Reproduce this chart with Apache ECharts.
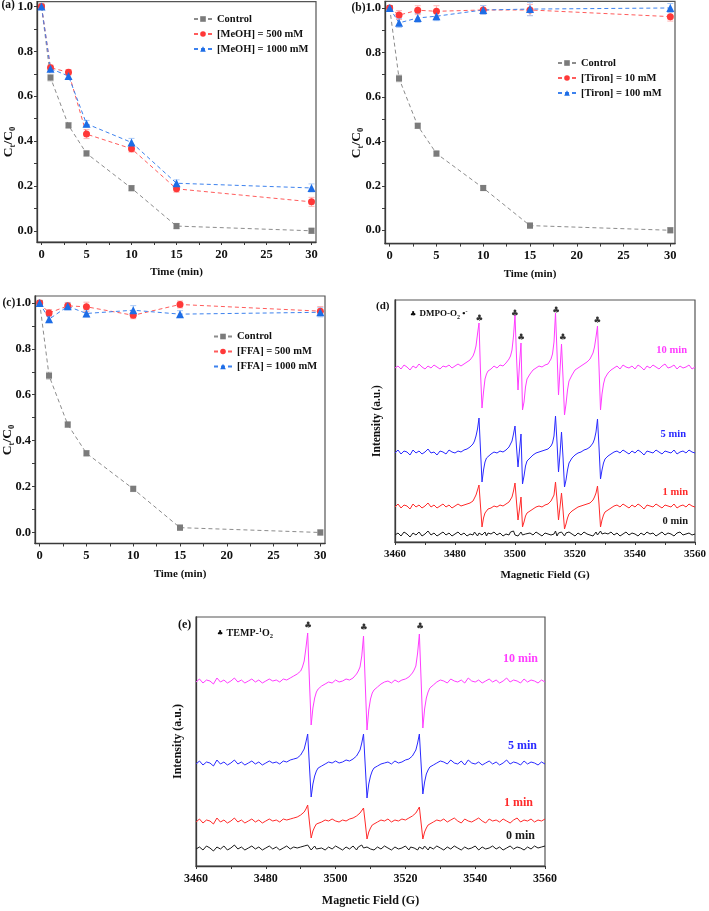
<!DOCTYPE html>
<html><head><meta charset="utf-8">
<script src="https://cdn.jsdelivr.net/npm/echarts@6/dist/echarts.min.js"></script>
<style>html,body{margin:0;padding:0;background:#fff}#c{width:709px;height:911px}</style>
</head><body><div id="c"></div>
<script>
// ---------- kinetics data (panels a-c) ----------
const times = [0, 1, 3, 5, 10, 15, 30];
const control = [1.0, 0.683, 0.470, 0.345, 0.190, 0.021, 0.0];
const controlErr = [0.006, 0.015, 0.012, 0.012, 0.012, 0.012, 0.012];
const meoh500 = [1.0, 0.727, 0.707, 0.431, 0.366, 0.187, 0.129];
const meoh500Err = [0.005, 0.012, 0.012, 0.020, 0.015, 0.015, 0.020];
const meoh1000 = [1.0, 0.723, 0.690, 0.477, 0.394, 0.212, 0.191];
const meoh1000Err = [0.005, 0.012, 0.012, 0.015, 0.018, 0.015, 0.018];
const tiron10 = [1.0, 0.968, 0.990, 0.985, 0.991, 0.991, 0.961];
const tiron10Err = [0.005, 0.020, 0.020, 0.025, 0.020, 0.025, 0.020];
const tiron100 = [1.0, 0.933, 0.955, 0.963, 0.991, 0.995, 1.0];
const tiron100Err = [0.005, 0.020, 0.020, 0.020, 0.020, 0.030, 0.020];
const ffa500 = [1.0, 0.956, 0.987, 0.983, 0.946, 0.993, 0.964];
const ffa500Err = [0.005, 0.015, 0.015, 0.020, 0.015, 0.015, 0.020];
const ffa1000 = [1.0, 0.929, 0.985, 0.954, 0.968, 0.951, 0.959];
const ffa1000Err = [0.005, 0.015, 0.015, 0.015, 0.020, 0.015, 0.020];
const timeTicks = [0, 2.5, 5, 7.5, 10, 12.5, 15, 17.5, 20, 22.5, 25, 27.5, 30];
const timeLabels = [0, 5, 10, 15, 20, 25, 30];
const ratioTicks = [0, 0.1, 0.2, 0.3, 0.4, 0.5, 0.6, 0.7, 0.8, 0.9, 1.0];
const ratioLabels = [0, 0.2, 0.4, 0.6, 0.8, 1.0];

// ---------- EPR spectra (panel d, DMPO) ----------
const fieldD = [3460,3461,3462,3463,3464,3465,3466,3467,3468,3469,3470,3471,3472,3473,3474,3475,3476,3477,3478,3479,3480,3481,3482,3483,3484,3485,
3485.5,3486,3486.5,3487,3487.5,3488,3488.5,3489,3489.5,3490,3490.5,3491,
3492,3493,3494,3495,3496,3497,
3497.5,3498,3498.5,3499,3499.5,3500,3500.5,3501,3501.5,3502,3502.5,3503,3503.5,3504,
3505,3506,3507,3508,3509,3510,3511,
3511.5,3512,3512.5,3513,3513.5,3514,3514.5,3515,3515.5,3516,3516.5,3517,3517.5,3518,
3519,3520,3521,3522,3523,3524,3525,
3525.5,3526,3526.5,3527,3527.5,3528,3528.5,3529,3529.5,3530,
3531,3532,3533,3534,3535,3536,3537,3538,3539,3540,3541,3542,3543,3544,3545,3546,3547,3548,3549,3550,3551,3552,3553,3554,3555,3556,3557,3558,3559,3560];
const dmpo10 = [174,176,173,177,175,172,176,174,178,175,173,176,174,177,175,173,176,175,177,174,176,178,176,178,180,182,
184,186,190,196,208,219,170,134,150,163,168,171,
173,176,174,177,176,179,
181,183,186,192,206,227,185,152,178,199,132,140,155,163,
168,172,174,176,175,177,178,
180,183,188,200,229,190,147,172,198,165,127,138,152,161,
167,172,174,176,178,180,183,
186,189,195,205,216,175,132,148,158,164,
169,172,174,176,173,177,175,174,176,173,177,175,172,176,174,177,175,173,176,178,174,175,177,173,176,174,175,177,173,175];
const dmpo5 = [89,92,88,91,90,87,92,89,91,88,90,93,89,90,87,91,90,88,92,90,89,91,90,92,93,95,
96,98,101,106,113,124,92,60,72,80,84,86,
88,90,89,91,90,92,
94,95,97,101,108,116,95,75,92,108,58,66,76,81,
84,87,89,90,91,92,93,
94,96,99,106,126,100,70,88,110,85,55,62,72,79,
84,87,89,90,92,93,95,
97,99,103,110,123,95,63,72,79,83,
86,88,90,91,89,92,90,88,91,89,92,90,87,91,90,89,92,90,88,91,90,89,92,88,90,91,89,92,90,89];
const dmpo1 = [35,38,34,37,36,33,38,35,37,34,36,39,35,37,34,36,38,35,37,34,36,38,36,37,38,39,
40,41,43,47,52,57,36,15,24,29,31,33,
34,36,35,37,36,38,
39,40,42,45,51,59,40,22,33,45,15,20,26,29,
31,33,35,36,35,37,38,
39,41,43,47,60,42,22,35,49,32,13,18,24,28,
31,33,35,36,37,38,39,
41,42,45,49,56,38,15,22,27,30,
32,34,36,37,35,38,36,34,37,35,38,36,33,37,36,35,38,36,34,37,36,35,38,34,36,37,35,38,36,35];
const dmpo0 = [7,9,6,10,8,5,9,7,10,6,8,11,7,9,6,8,10,7,9,6,8,10,7,9,6,8,
9,7,10,8,6,9,11,7,8,10,6,9,
8,10,7,9,6,8,
9,7,10,8,11,7,9,6,8,10,7,9,8,6,
9,7,10,8,6,9,8,
10,7,9,8,11,6,9,7,10,8,6,9,7,10,
8,6,9,7,10,8,7,
9,6,8,10,7,9,11,8,6,9,
8,10,7,9,6,8,10,7,9,8,6,9,7,10,8,9,6,8,10,7,9,8,6,9,10,7,8,9,7,8];
const dmpoPeakField = [3488.1, 3499.9, 3502.0, 3513.7, 3515.9, 3527.4];
const dmpoPeakMark = [223, 228, 204, 231, 204, 221];

// ---------- EPR spectra (panel e, TEMP) ----------
const fieldE = [3460,3461,3462,3463,3464,3465,3466,3467,3468,3469,3470,3471,3472,3473,3474,3475,3476,3477,3478,3479,3480,3481,3482,3483,3484,3485,3486,3487,3488,3489,
3489.5,3490,3490.5,3491,3491.5,3492,3492.5,3493,3493.5,3494,3494.5,3495,
3496,3497,3498,3499,3500,3501,3502,3503,3504,3505,
3505.5,3506,3506.5,3507,3507.5,3508,3508.5,3509,3509.5,3510,3510.5,3511,
3512,3513,3514,3515,3516,3517,3518,3519,3520,3521,
3521.5,3522,3522.5,3523,3523.5,3524,3524.5,3525,3525.5,3526,3526.5,3527,
3528,3529,3530,3531,3532,3533,3534,3535,3536,3537,3538,3539,3540,3541,3542,3543,3544,3545,3546,3547,3548,3549,3550,3551,3552,3553,3554,3555,3556,3557,3558,3559,3560];
const temp10 = [184,187,183,186,185,182,188,184,186,183,185,188,184,186,183,185,187,184,186,183,185,187,185,186,184,187,186,188,190,192,
193,195,199,205,218,233,185,141,158,168,174,177,
180,182,184,183,186,184,185,187,186,188,
190,192,195,199,210,230,182,136,156,167,173,176,
179,182,184,185,183,186,184,186,187,189,
191,193,196,200,213,232,186,138,157,168,174,178,
181,184,186,185,183,187,185,184,186,183,188,185,184,186,183,185,187,184,186,183,185,188,184,186,185,183,187,184,186,185,183,186,184];
const temp5 = [102,105,101,104,103,100,106,102,104,101,103,106,102,104,101,103,105,102,104,101,103,105,103,104,102,105,104,106,107,108,
109,111,113,117,124,132,100,69,82,90,95,98,
100,102,104,103,105,103,104,106,105,107,
108,110,112,116,123,132,100,68,82,90,95,98,
100,102,103,104,102,105,103,104,106,107,
108,110,112,116,123,132,102,72,84,92,96,99,
101,103,105,104,102,106,103,102,105,101,106,103,102,104,101,103,105,102,104,101,103,106,102,104,103,101,105,102,104,103,101,104,102];
const temp1 = [44,47,43,46,45,42,48,44,46,43,45,48,44,46,43,45,47,44,46,43,45,47,45,46,44,47,46,47,48,49,
50,51,52,54,57,61,44,28,35,39,42,43,
44,46,45,47,45,44,46,45,47,48,
49,50,51,53,55,58,43,27,34,38,41,43,
44,46,45,47,44,46,45,47,46,48,
49,50,51,53,56,59,43,27,34,38,41,43,
44,46,45,47,44,46,48,45,43,47,45,44,46,48,45,43,47,45,46,44,47,45,43,46,48,44,46,45,47,44,46,45,47];
const temp0 = [17,19,16,20,18,15,19,17,20,16,18,21,17,19,16,18,20,17,19,16,18,20,17,19,16,18,20,17,19,18,
16,19,17,20,18,21,19,16,18,20,17,19,
18,16,19,17,20,18,16,19,17,20,
18,16,19,17,21,18,16,19,20,17,18,16,
19,17,20,18,16,19,17,18,20,16,
19,17,18,20,16,19,18,17,20,18,16,19,
17,20,18,16,19,17,20,18,16,19,17,18,20,16,19,17,18,20,17,19,16,18,20,17,19,18,16,19,17,20,18,19,20];
const tempPeakField = [3492.1, 3508.1, 3524.2];
const tempPeakMark = [240, 238, 239];
const fieldTicks = [3460, 3470, 3480, 3490, 3500, 3510, 3520, 3530, 3540, 3550, 3560];
const fieldLabels = [3460, 3480, 3500, 3520, 3540, 3560];

// ---------- styling ----------
const FF = "'Liberation Serif','Times New Roman',serif";
const AX = '#3a3a3a';
const C_GRAY = {m:'#7b7b7b', l:'#8c8c8c', e:'#c4c4c4'};
const C_RED = {m:'#ff3838', l:'#ff5c5c', e:'#ffb3b3'};
const C_BLUE = {m:'#1d6de6', l:'#3d82ee', e:'#a9c9f6'};
const MAG = '#ff3dff', BLU = '#2a2aff', RED = '#ff2a2a', BLK = '#1a1a1a';

const zip = (xs, ys) => xs.map((x, i) => [x, ys[i]]);

function kinLine(name, ys, col, sym, size, idx) {
  return {type:'line', name, xAxisIndex:idx, yAxisIndex:idx, data:zip(times, ys),
    symbol:sym, symbolSize:size, showSymbol:true, z:3,
    itemStyle:{color:col.m}, lineStyle:{color:col.l, width:1, type:[4,3]}, animation:false};
}
function errBar(ys, es, col, idx) {
  return {type:'custom', xAxisIndex:idx, yAxisIndex:idx, silent:true, z:2, animation:false,
    data: times.map((t, i) => [t, ys[i] - es[i], ys[i] + es[i]]),
    encode:{x:0, y:[1,2]},
    renderItem:(p, api) => {
      const lo = api.coord([api.value(0), api.value(1)]);
      const hi = api.coord([api.value(0), api.value(2)]);
      const w = 3, st = {stroke:col.e, lineWidth:1};
      return {type:'group', children:[
        {type:'line', shape:{x1:lo[0], y1:lo[1], x2:hi[0], y2:hi[1]}, style:st},
        {type:'line', shape:{x1:lo[0]-w, y1:lo[1], x2:lo[0]+w, y2:lo[1]}, style:st},
        {type:'line', shape:{x1:hi[0]-w, y1:hi[1], x2:hi[0]+w, y2:hi[1]}, style:st}]};
    }};
}
function specLine(xs, ys, color, idx) {
  return {type:'line', xAxisIndex:idx, yAxisIndex:idx, data:zip(xs, ys), showSymbol:false,
    symbol:'none', lineStyle:{color, width:1}, itemStyle:{color}, animation:false, silent:true};
}
function peakMarks(xs, ys, idx) {
  return {type:'scatter', xAxisIndex:idx, yAxisIndex:idx, data:zip(xs, ys), symbolSize:2,
    itemStyle:{color:'rgba(0,0,0,0)'}, silent:true, animation:false, z:5,
    label:{show:true, position:'inside', formatter:'\u2663', fontSize:9, color:'#000',
      fontFamily:"'DejaVu Sans',sans-serif"}};
}

const ctRich = {b:{fontFamily:FF, fontWeight:'bold', fontSize:13.5, fill:'#111', lineHeight:17},
  s:{fontFamily:FF, fontWeight:'bold', fontSize:8.5, fill:'#111', verticalAlign:'bottom', lineHeight:8}};
function ctLabel(x, y) {
  return {type:'text', silent:true, x, y, rotation:Math.PI / 2,
    style:{x:0, y:0, text:'{b|C}{s|t}{b|/C}{s|0}', rich:ctRich, align:'center', verticalAlign:'middle'}};
}

const noZeroLine = c => ({show:true, onZero:false, lineStyle:{color:c, width:1.3}});

function timeX(idx) {
  return {type:'value', gridIndex:idx, min:-0.5, max:30.5, name:'Time (min)', nameLocation:'middle',
    nameGap:25, nameTextStyle:{fontFamily:FF, fontWeight:'bold', fontSize:11, color:'#111'},
    axisLine:noZeroLine(AX),
    axisTick:{show:true, inside:false, length:3, customValues:timeTicks, lineStyle:{color:AX}},
    axisLabel:{customValues:timeLabels, margin:6, fontFamily:FF, fontWeight:'bold', fontSize:12.5, color:'#111'},
    splitLine:{show:false}};
}
function ratioY(idx, min, max) {
  return {type:'value', gridIndex:idx, min, max,
    axisLine:noZeroLine(AX),
    axisTick:{show:true, inside:false, length:3, customValues:ratioTicks, lineStyle:{color:AX}},
    axisLabel:{customValues:ratioLabels, margin:4, formatter:v => v.toFixed(1),
      fontFamily:FF, fontWeight:'bold', fontSize:12.5, color:'#111'},
    splitLine:{show:false}};
}
function fieldX(idx, gap, fs, nfs) {
  return {type:'value', gridIndex:idx, min:3460, max:3560, name:'Magnetic Field (G)', nameLocation:'middle',
    nameGap:gap, nameTextStyle:{fontFamily:FF, fontWeight:'bold', fontSize:nfs, color:'#111'},
    axisLine:noZeroLine(AX),
    axisTick:{show:true, inside:false, length:3, customValues:fieldTicks, lineStyle:{color:AX}},
    axisLabel:{customValues:fieldLabels, formatter:v => String(v), margin:7,
      fontFamily:FF, fontWeight:'bold', fontSize:fs, color:'#111'},
    splitLine:{show:false}};
}
function intensityY(idx, max, gap, nfs) {
  return {type:'value', gridIndex:idx, min:0, max, name:'Intensity (a.u.)', nameLocation:'middle', nameRotate:90,
    nameGap:gap, nameTextStyle:{fontFamily:FF, fontWeight:'bold', fontSize:nfs, color:'#111'},
    axisLine:noZeroLine(AX), axisTick:{show:false}, axisLabel:{show:false},
    splitLine:{show:false}};
}
function legendAt(left, top, names) {
  return {left, top, orient:'vertical', itemWidth:18, itemHeight:7, itemGap:1, padding:0,
    textStyle:{fontFamily:FF, fontWeight:'bold', fontSize:10.5, color:'#111', lineHeight:14, padding:[0,0,0,0]},
    data:names, selectedMode:false};
}
function txt(x, y, text, opts) {
  return {type:'text', silent:true, style:Object.assign({x, y, text, font:`bold 12px ${FF}`, fill:'#111',
    align:'left', verticalAlign:'middle'}, opts || {})};
}

const labA = ['Control', '[MeOH] = 500 mM', '[MeOH] = 1000 mM'];
const labB = ['Control', '[Tiron] = 10 mM', '[Tiron] = 100 mM'];
const labC = ['Control', '[FFA] = 500 mM', '[FFA] = 1000 mM'];

const frame = {show:true, borderColor:'#555', borderWidth:1.2, backgroundColor:'transparent'};
const option = {
  backgroundColor:'#fff', animation:false,
  grid:[
    Object.assign({left:37, top:0, width:279, height:242}, frame),
    Object.assign({left:385, top:1.3, width:290, height:242.3}, frame),
    Object.assign({left:35, top:296, width:290, height:247.5}, frame),
    Object.assign({left:395, top:300, width:303, height:242}, frame),
    Object.assign({left:196, top:617, width:349, height:249}, frame)
  ],
  xAxis:[timeX(0), timeX(1), timeX(2), fieldX(3, 28, 11, 11), fieldX(4, 29, 12, 12)],
  yAxis:[ratioY(0, -0.05, 1.022), ratioY(1, -0.06, 1.03), ratioY(2, -0.048, 1.03),
    intensityY(3, 242, 12, 11.5), intensityY(4, 249, 12, 12)],
  legend:[legendAt(193, 12, labA), legendAt(557, 56, labB), legendAt(213, 329.5, labC)],
  series:[
    errBar(control, controlErr, C_GRAY, 0), errBar(meoh500, meoh500Err, C_RED, 0), errBar(meoh1000, meoh1000Err, C_BLUE, 0),
    kinLine(labA[0], control, C_GRAY, 'rect', 6, 0),
    kinLine(labA[1], meoh500, C_RED, 'circle', 7, 0),
    kinLine(labA[2], meoh1000, C_BLUE, 'triangle', 8, 0),
    errBar(control, controlErr, C_GRAY, 1), errBar(tiron10, tiron10Err, C_RED, 1), errBar(tiron100, tiron100Err, C_BLUE, 1),
    kinLine(labB[0], control, C_GRAY, 'rect', 6, 1),
    kinLine(labB[1], tiron10, C_RED, 'circle', 7, 1),
    kinLine(labB[2], tiron100, C_BLUE, 'triangle', 8, 1),
    errBar(control, controlErr, C_GRAY, 2), errBar(ffa500, ffa500Err, C_RED, 2), errBar(ffa1000, ffa1000Err, C_BLUE, 2),
    kinLine(labC[0], control, C_GRAY, 'rect', 6, 2),
    kinLine(labC[1], ffa500, C_RED, 'circle', 7, 2),
    kinLine(labC[2], ffa1000, C_BLUE, 'triangle', 8, 2),
    specLine(fieldD, dmpo0, BLK, 3), specLine(fieldD, dmpo1, RED, 3),
    specLine(fieldD, dmpo5, BLU, 3), specLine(fieldD, dmpo10, MAG, 3),
    peakMarks(dmpoPeakField, dmpoPeakMark, 3),
    specLine(fieldE, temp0, BLK, 4), specLine(fieldE, temp1, RED, 4),
    specLine(fieldE, temp5, BLU, 4), specLine(fieldE, temp10, MAG, 4),
    peakMarks(tempPeakField, tempPeakMark, 4)
  ],
  graphic:[
    ctLabel(9, 142), ctLabel(357, 143), ctLabel(8, 440),
    txt(1.5, 5, '(a)', {font:`bold 11.5px ${FF}`}),
    txt(351.5, 8, '(b)', {font:`bold 11.5px ${FF}`}),
    txt(2.5, 303, '(c)', {font:`bold 11.5px ${FF}`}),
    txt(376, 306, '(d)', {font:`bold 11px ${FF}`}),
    txt(178, 625, '(e)', {font:`bold 12px ${FF}`}),
    {type:'text', silent:true, style:{x:410, y:314, verticalAlign:'middle', align:'left',
      text:'{c|\u2663} {t|DMPO-O}{s|2}{t| \u2022}{p|-}',
      rich:{c:{fontSize:7, fontFamily:"'DejaVu Sans',sans-serif", fill:'#000'},
        t:{font:`bold 9px ${FF}`, fill:'#111', lineHeight:12},
        s:{font:`bold 6px ${FF}`, fill:'#111', verticalAlign:'bottom', lineHeight:6},
        p:{font:`bold 6px ${FF}`, fill:'#111', verticalAlign:'top', lineHeight:6}}}},
    {type:'text', silent:true, style:{x:217, y:633, verticalAlign:'middle', align:'left',
      text:'{c|\u2663} {t|TEMP-}{p|1}{t|O}{s|2}',
      rich:{c:{fontSize:7, fontFamily:"'DejaVu Sans',sans-serif", fill:'#000'},
        t:{font:`bold 10px ${FF}`, fill:'#111', lineHeight:13},
        s:{font:`bold 6.5px ${FF}`, fill:'#111', verticalAlign:'bottom', lineHeight:6},
        p:{font:`bold 6.5px ${FF}`, fill:'#111', verticalAlign:'top', lineHeight:6}}}},
    txt(687, 350, '10 min', {align:'right', fill:MAG, font:`bold 10.5px ${FF}`}),
    txt(686, 434, '5 min', {align:'right', fill:BLU, font:`bold 10.5px ${FF}`}),
    txt(688, 492, '1 min', {align:'right', fill:RED, font:`bold 10.5px ${FF}`}),
    txt(688, 521, '0 min', {align:'right', fill:BLK, font:`bold 10.5px ${FF}`}),
    txt(538, 659, '10 min', {align:'right', fill:MAG}),
    txt(537, 746, '5 min', {align:'right', fill:BLU}),
    txt(533, 803, '1 min', {align:'right', fill:RED}),
    txt(535, 836, '0 min', {align:'right', fill:BLK})
  ]
};
const chart = echarts.init(document.getElementById('c'), null, {renderer:'canvas'});
chart.setOption(option);
</script></body></html>
